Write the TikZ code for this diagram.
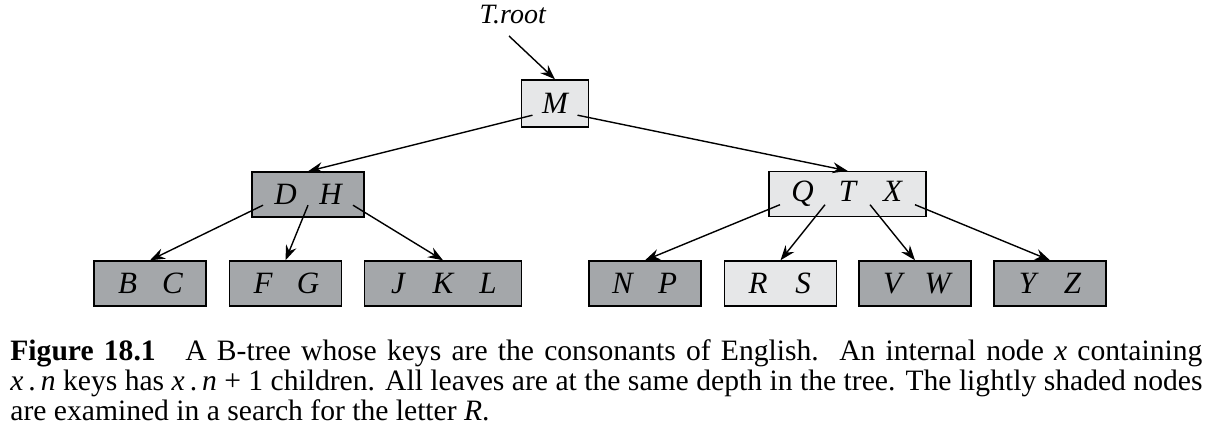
\documentclass[tikz,border=0pt]{standalone}
\usepackage{fontspec}
\setmainfont{Liberation Serif}
\usetikzlibrary{arrows.meta,calc}
\definecolor{darkfill}{RGB}{164,167,170}
\definecolor{lightfill}{RGB}{230,231,232}
\newcommand\kk[1]{\makebox[22.5pt]{#1}}
\begin{document}
\begin{tikzpicture}[x=0.5pt,y=-0.5pt,
  btnode/.style={draw=black, line width=0.7pt, minimum height=22.5pt, inner sep=0pt,
    font=\fontsize{15.5}{17}\selectfont\itshape},
  dark/.style={btnode, fill=darkfill},
  light/.style={btnode, fill=lightfill},
  keysone/.style={minimum width=33.5pt},
  keystwo/.style={minimum width=56pt},
  keysthree/.style={minimum width=78.5pt},
  ptr/.style={line width=0.7pt, -{Stealth[length=7.5pt,width=5.5pt,inset=2.5pt]}},
  lbl/.style={inner sep=0pt, font=\fontsize{14}{15}\selectfont}]
\useasboundingbox (0,0) rectangle (1214,442);
% root label
\node[lbl] (troot) at (513,15) {\textit{T.root}};
\coordinate (rootptr) at (509,36);
% nodes
\node[light,keysone,minimum height=23.5pt] (M) at (555,103.5) {\kk{M}};
\node[dark,keystwo] (DH) at (308,194.5) {\kk{D}\kk{H}};
\node[light,keysthree] (QTX) at (847.5,194) {\kk{Q}\kk{T}\kk{X}};
\node[dark,keystwo] (BC) at (150,283.5) {\kk{B}\kk{C}};
\node[dark,keystwo] (FG) at (285.5,283.5) {\kk{F}\kk{G}};
\node[dark,keysthree] (JKL) at (443,283.5) {\kk{J}\kk{K}\kk{L}};
\node[dark,keystwo] (NP) at (645,283.5) {\kk{N}\kk{P}};
\node[light,keystwo] (RS) at (780.5,283.5) {\kk{R}\kk{S}};
\node[dark,keystwo] (VW) at (915,283.5) {\kk{V}\kk{W}};
\node[dark,keystwo] (YZ) at (1050,283.5) {\kk{Y}\kk{Z}};
% connectors
\draw[ptr] (rootptr) -- (M.north);
\draw[ptr] ($(M.south)+(-22.5,-12.5)$) -- (DH.north);
\draw[ptr] ($(M.south)+(22.5,-12.5)$) -- (QTX.north);
\draw[ptr] ($(DH.south)+(-45,-12.5)$) -- (BC.north);
\draw[ptr] ($(DH.south)+(0,-12.5)$) -- (FG.north);
\draw[ptr] ($(DH.south)+(45,-12.5)$) -- (JKL.north);
\draw[ptr] ($(QTX.south)+(-67.5,-12.5)$) -- (NP.north);
\draw[ptr] ($(QTX.south)+(-22.5,-12.5)$) -- (RS.north);
\draw[ptr] ($(QTX.south)+(22.5,-12.5)$) -- (VW.north);
\draw[ptr] ($(QTX.south)+(67.5,-12.5)$) -- (YZ.north);
% caption
\node[anchor=north west, inner sep=0pt, text width=596pt, align=justify,
  font=\fontsize{14.8}{15.1}\selectfont] (caption) at (10,339)
{\textbf{Figure 18.1}\hspace{1em}A B-tree whose keys are the consonants of English.\ \ An internal node \textit{x} containing\linebreak
\textit{x}\,.\,\textit{n} keys has \textit{x}\,.\,\textit{n}\hspace{0.25em}+\hspace{0.25em}1 children. All leaves are at the same depth in the tree. The lightly shaded nodes\linebreak
are examined in a search for the letter \textit{R}.};
\end{tikzpicture}
\end{document}
